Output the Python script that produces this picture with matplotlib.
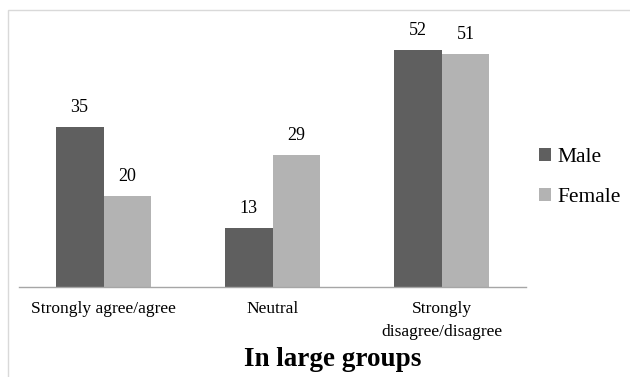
import matplotlib.pyplot as plt
from matplotlib.patches import Rectangle
import numpy as np

plt.rcParams['font.family'] = ['Liberation Serif', 'DejaVu Serif']

categories = ['Strongly agree/agree', 'Neutral', 'Strongly\ndisagree/disagree']
male = [35, 13, 52]
female = [20, 29, 51]
series_names = ['Male', 'Female']
colors = ['#5f5f5f', '#b3b3b3']

fig = plt.figure(figsize=(6.3, 3.77), dpi=100)

# thin grey frame around the chart area
fig.patches.append(Rectangle((8 / 630, -0.1), 1.2, 1 - 10 / 377 + 0.1,
                             transform=fig.transFigure, fill=False,
                             edgecolor='#d9d9d9', linewidth=1.0))

ax = fig.add_axes([19 / 630, 1 - 287 / 377, (526 - 19) / 630, (287 - 20) / 377])

x = np.arange(len(categories))
w = 0.284
bars_m = ax.bar(x - w / 2, male, w, color=colors[0], label=series_names[0])
bars_f = ax.bar(x + w / 2, female, w, color=colors[1], label=series_names[1])

for bars, vals in ((bars_m, male), (bars_f, female)):
    for b, v in zip(bars, vals):
        ax.annotate(str(v), (b.get_x() + b.get_width() / 2, v),
                    xytext=(0, 8), textcoords='offset points',
                    ha='center', va='bottom', fontsize=13)

ax.set_xlim(-0.5, 2.5)
ax.set_ylim(0, 58.5)
ax.set_yticks([])
ax.set_xticks(x)
ax.set_xticklabels(categories, fontsize=12.5, linespacing=1.6)
ax.tick_params(axis='x', length=0, pad=10)
for s in ['top', 'right', 'left']:
    ax.spines[s].set_visible(False)
ax.spines['bottom'].set_color('#a6a6a6')
ax.spines['bottom'].set_linewidth(1.0)

ax.legend(loc='center left', bbox_to_anchor=(1.0, 0.41), frameon=False,
          fontsize=15.5, handlelength=0.55, handleheight=0.55, handletextpad=0.3,
          labelspacing=0.95, borderaxespad=0.4, borderpad=0.2)

fig.text(333 / 630, 1 - 360 / 377, 'In large groups', ha='center', va='center',
         fontsize=19.5, fontweight='bold')

fig.savefig('out.png', dpi=100)
